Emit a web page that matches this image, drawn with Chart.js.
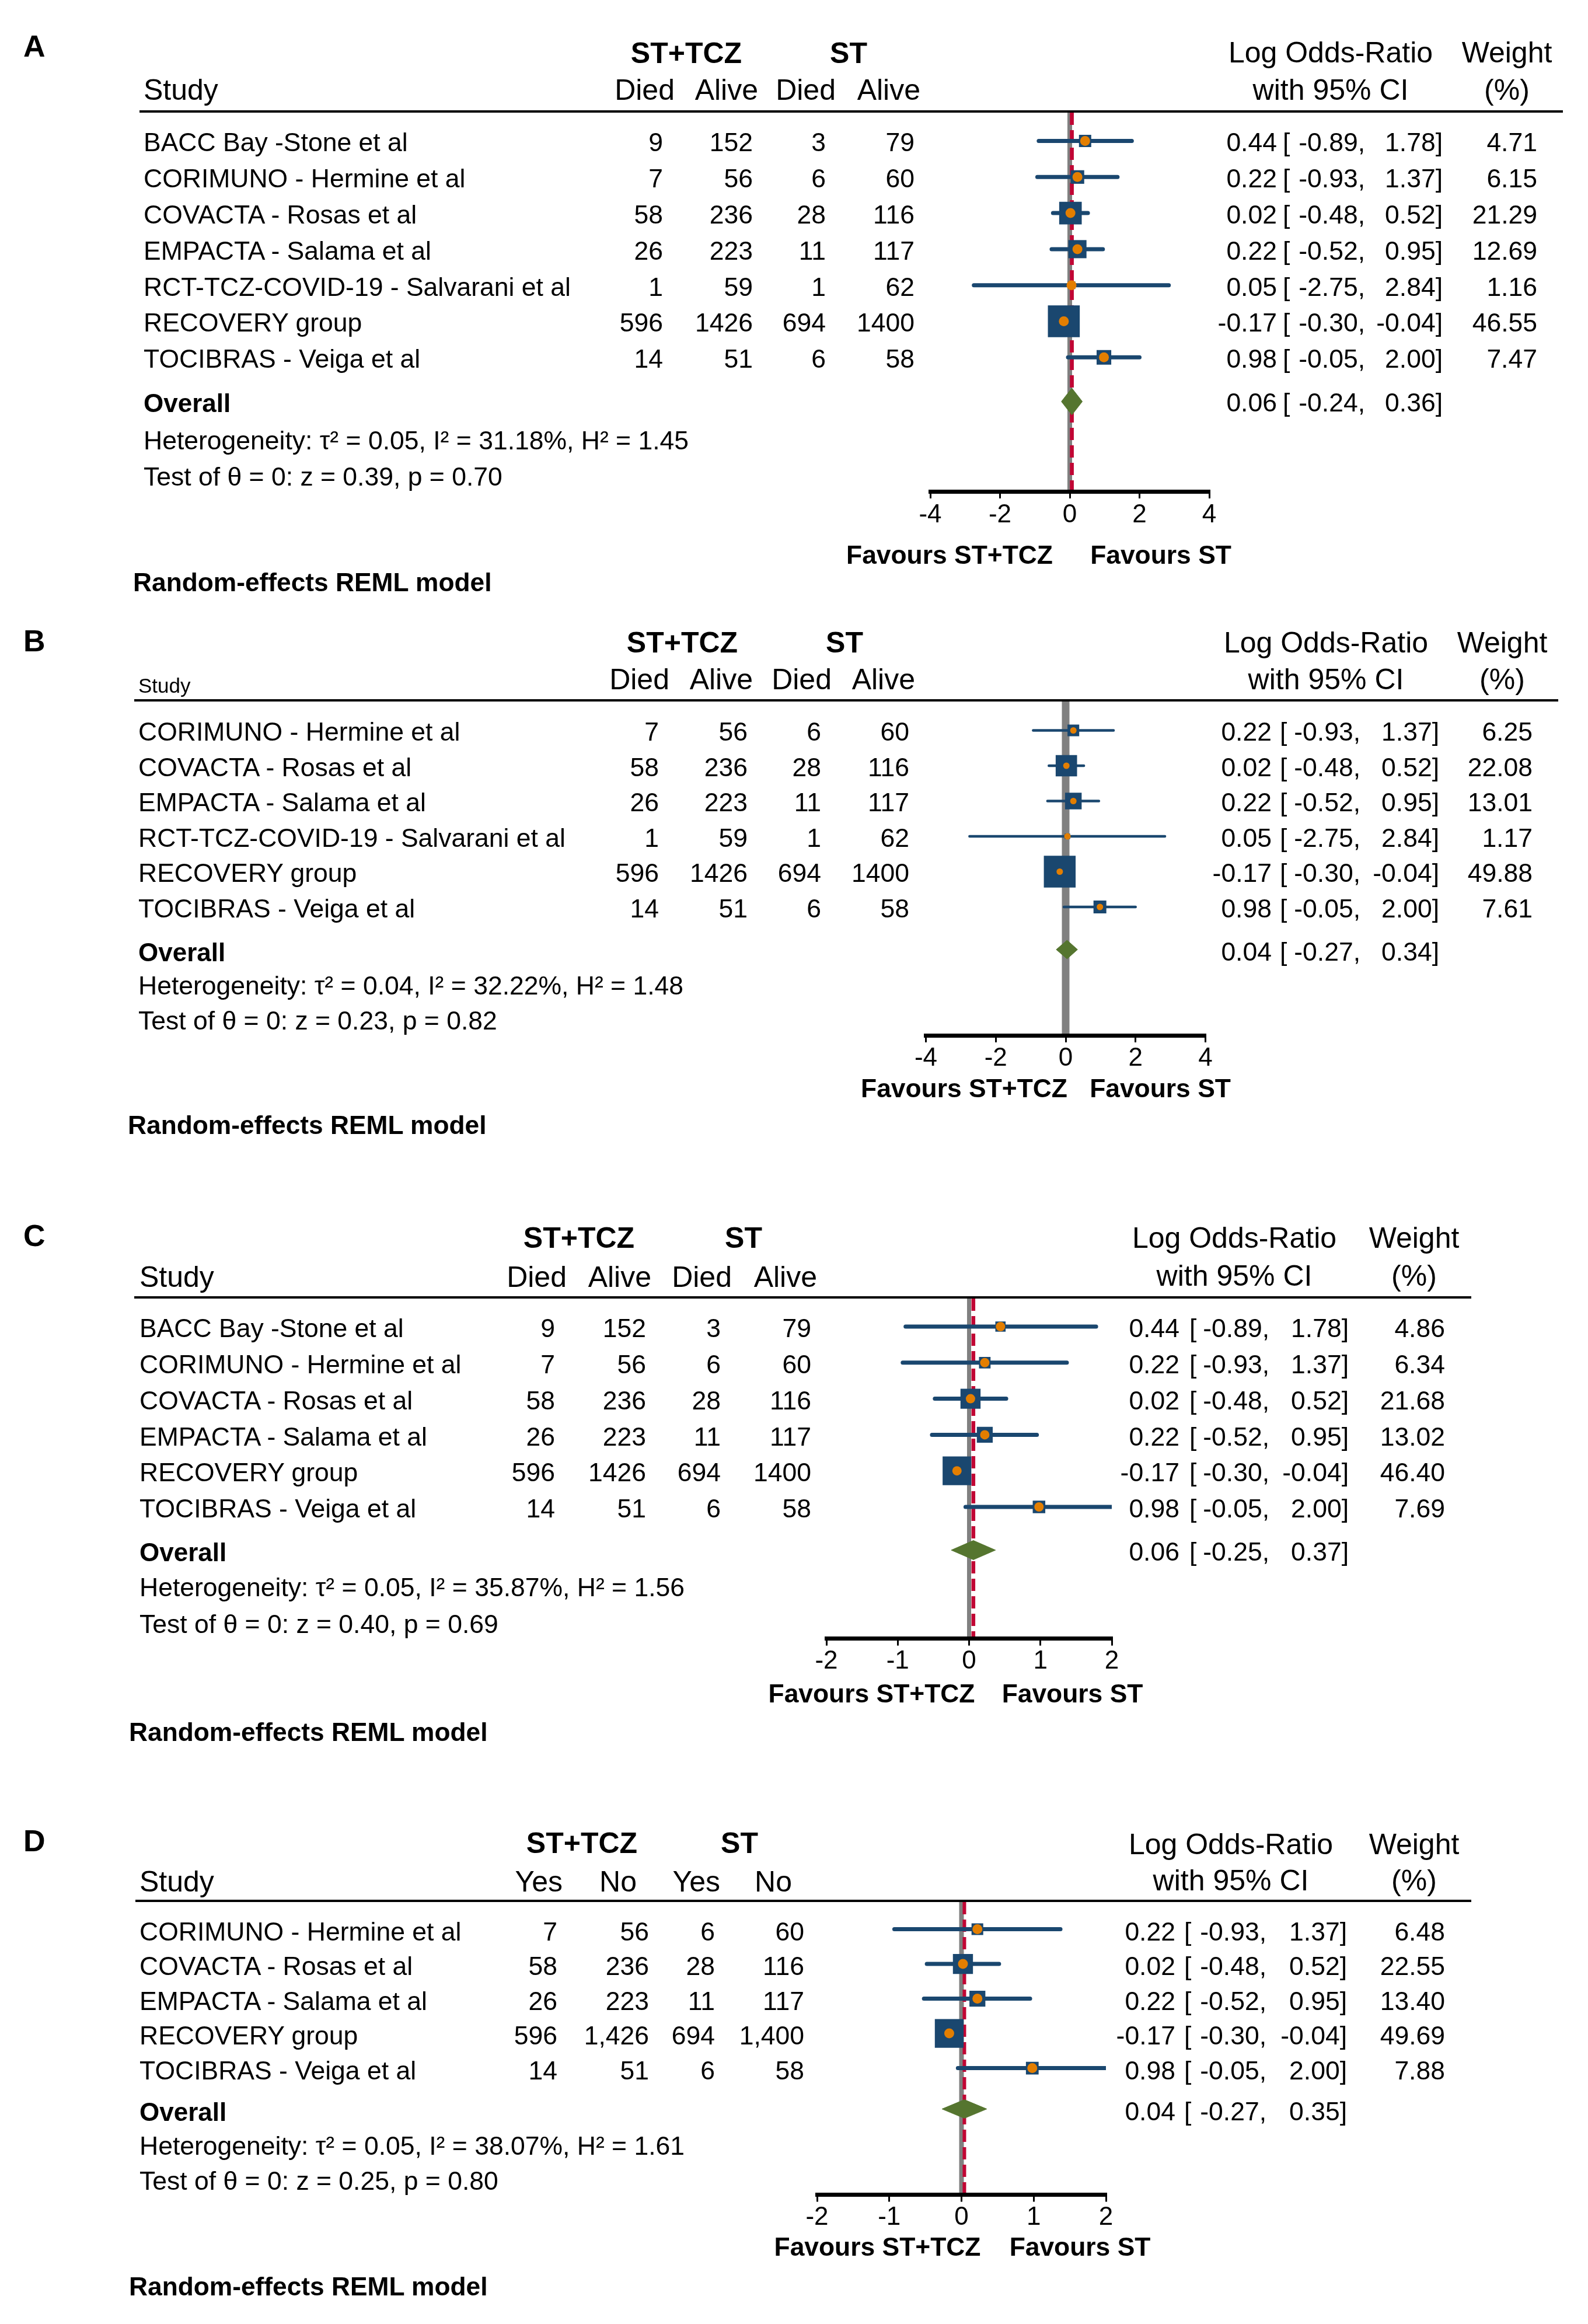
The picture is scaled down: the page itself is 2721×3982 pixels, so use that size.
<!DOCTYPE html>
<html><head><meta charset="utf-8">
<script src="https://cdn.jsdelivr.net/npm/chart.js@4.4.1/dist/chart.umd.min.js"></script>
<style>
html,body{margin:0;padding:0;background:#fff;}
#page{position:relative;width:2721px;height:3982px;overflow:hidden;background:#fff;font-family:"Liberation Sans",Arial,Helvetica,sans-serif;color:#000;}
.t{position:absolute;white-space:pre;line-height:1;}
canvas{position:absolute;left:0;}
.hl{position:absolute;background:#000;}
</style></head><body><div id="page"></div>
<script>
// ---------------- DATA ----------------
const colHeadsABC = ['Died', 'Alive', 'Died', 'Alive'];
const colHeadsD = ['Yes', 'No', 'Yes', 'No'];

// Panel A
const studiesA = ['BACC Bay -Stone et al', 'CORIMUNO - Hermine et al', 'COVACTA - Rosas et al', 'EMPACTA - Salama et al', 'RCT-TCZ-COVID-19 - Salvarani et al', 'RECOVERY group', 'TOCIBRAS - Veiga et al'];
const trtDiedA = [9, 7, 58, 26, 1, 596, 14];
const trtAliveA = [152, 56, 236, 223, 59, 1426, 51];
const ctlDiedA = [3, 6, 28, 11, 1, 694, 6];
const ctlAliveA = [79, 60, 116, 117, 62, 1400, 58];
const estA = [0.44, 0.22, 0.02, 0.22, 0.05, -0.17, 0.98];
const lowA = [-0.89, -0.93, -0.48, -0.52, -2.75, -0.30, -0.05];
const highA = [1.78, 1.37, 0.52, 0.95, 2.84, -0.04, 2.00];
const weightA = [4.71, 6.15, 21.29, 12.69, 1.16, 46.55, 7.47];
const overallA = [0.06, -0.24, 0.36];
const hetA = [0.05, 31.18, 1.45];
const testA = [0.39, 0.70];
const ticksA = [-4, -2, 0, 2, 4];

// Panel B
const studiesB = ['CORIMUNO - Hermine et al', 'COVACTA - Rosas et al', 'EMPACTA - Salama et al', 'RCT-TCZ-COVID-19 - Salvarani et al', 'RECOVERY group', 'TOCIBRAS - Veiga et al'];
const trtDiedB = [7, 58, 26, 1, 596, 14];
const trtAliveB = [56, 236, 223, 59, 1426, 51];
const ctlDiedB = [6, 28, 11, 1, 694, 6];
const ctlAliveB = [60, 116, 117, 62, 1400, 58];
const estB = [0.22, 0.02, 0.22, 0.05, -0.17, 0.98];
const lowB = [-0.93, -0.48, -0.52, -2.75, -0.30, -0.05];
const highB = [1.37, 0.52, 0.95, 2.84, -0.04, 2.00];
const weightB = [6.25, 22.08, 13.01, 1.17, 49.88, 7.61];
const overallB = [0.04, -0.27, 0.34];
const hetB = [0.04, 32.22, 1.48];
const testB = [0.23, 0.82];
const ticksB = [-4, -2, 0, 2, 4];

// Panel C
const studiesC = ['BACC Bay -Stone et al', 'CORIMUNO - Hermine et al', 'COVACTA - Rosas et al', 'EMPACTA - Salama et al', 'RECOVERY group', 'TOCIBRAS - Veiga et al'];
const trtDiedC = [9, 7, 58, 26, 596, 14];
const trtAliveC = [152, 56, 236, 223, 1426, 51];
const ctlDiedC = [3, 6, 28, 11, 694, 6];
const ctlAliveC = [79, 60, 116, 117, 1400, 58];
const estC = [0.44, 0.22, 0.02, 0.22, -0.17, 0.98];
const lowC = [-0.89, -0.93, -0.48, -0.52, -0.30, -0.05];
const highC = [1.78, 1.37, 0.52, 0.95, -0.04, 2.00];
const weightC = [4.86, 6.34, 21.68, 13.02, 46.40, 7.69];
const overallC = [0.06, -0.25, 0.37];
const hetC = [0.05, 35.87, 1.56];
const testC = [0.40, 0.69];
const ticksC = [-2, -1, 0, 1, 2];

// Panel D
const studiesD = ['CORIMUNO - Hermine et al', 'COVACTA - Rosas et al', 'EMPACTA - Salama et al', 'RECOVERY group', 'TOCIBRAS - Veiga et al'];
const trtYesD = [7, 58, 26, 596, 14];
const trtNoD = [56, 236, 223, 1426, 51];
const ctlYesD = [6, 28, 11, 694, 6];
const ctlNoD = [60, 116, 117, 1400, 58];
const estD = [0.22, 0.02, 0.22, -0.17, 0.98];
const lowD = [-0.93, -0.48, -0.52, -0.30, -0.05];
const highD = [1.37, 0.52, 0.95, -0.04, 2.00];
const weightD = [6.48, 22.55, 13.40, 49.69, 7.88];
const overallD = [0.04, -0.27, 0.35];
const hetD = [0.05, 38.07, 1.61];
const testD = [0.25, 0.80];
const ticksD = [-2, -1, 0, 1, 2];

// ---------------- LAYOUT (positions/styles) ----------------
const FONT = '"Liberation Sans", Arial, Helvetica, sans-serif';
const NAVY = '#1A476F', ORANGE = '#E37E00', GREEN = '#55752F', RED = '#C10534', GRAY = '#808080';
const AXH = 70;

const layoutA = {letter:'A', letterBase:97, groupBase:108, groupT:1176, groupS:1454,
  headBase:171, studyX:246, studySize:50, studyBase:171, headRight:[1156,1299,1432,1577],
  lorX:2280, lorBase1:107, lorBase2:171, wX:2582, ruleX1:239, ruleX2:2678, ruleY:191,
  row0:241.5, pitch:61.8, textOff:2.6, overallY:688, overallTextY:690, hetY:755, testY:817,
  colRight:[1136,1290,1415,1567], estR:2188, brkL:2198, lowR:2339, highR:2472, wR:2634,
  xMin:-4, xMax:4, axL:1594, axR:2072, axY:842, chartTop:193, tickY:883,
  favY:951, favT:1627, favS:1989, remX:228, remY:998, canvasTop:0, canvasH:1040,
  sqA:5.3, sqB:7.23, dot:17, ciW:7, grayW:8, redW:6.7, diaH:23, red:true, commas:false};

const layoutB = {letter:'B', letterBase:1116, groupBase:1118, groupT:1169, groupS:1447,
  headBase:1181, studyX:237, studySize:35, studyBase:1187, headRight:[1147,1290,1425,1568],
  lorX:2272, lorBase1:1118, lorBase2:1181, wX:2574, ruleX1:230, ruleX2:2670, ruleY:1200,
  row0:1251.5, pitch:60.5, textOff:2.3, overallY:1627, overallTextY:1631, hetY:1689, testY:1749,
  colRight:[1129,1281,1407,1558], estR:2179, brkL:2193, lowR:2331, highR:2466, wR:2626,
  xMin:-4, xMax:4, axL:1586.5, axR:2065.5, axY:1774, chartTop:1202, tickY:1813.5,
  favY:1865, favT:1652, favS:1988, remX:219, remY:1928, canvasTop:1050, canvasH:950,
  sqA:1.2, sqB:7.54, dot:11, ciW:4.5, grayW:13, redW:0, diaH:16, red:false, commas:false};

const layoutC = {letter:'C', letterBase:2135, groupBase:2138, groupT:992, groupS:1274,
  headBase:2205, studyX:239, studySize:50, studyBase:2205, headRight:[971,1116,1254,1400],
  lorX:2115, lorBase1:2138, lorBase2:2203, wX:2423, ruleX1:230, ruleX2:2521, ruleY:2223,
  row0:2273, pitch:61.8, textOff:3, overallY:2656, overallTextY:2659, hetY:2720, testY:2783,
  colRight:[951,1107,1235,1390], estR:2021, brkL:2038, lowR:2175, highR:2311, wR:2476,
  xMin:-2, xMax:2, axL:1416, axR:1905, axY:2807.6, chartTop:2225, tickY:2847,
  favY:2901.5, favT:1493.5, favS:1837.5, remX:221, remY:2968, canvasTop:2030, canvasH:1000,
  sqA:2.5, sqB:6.85, dot:16, ciW:7, grayW:7, redW:6.5, diaH:16.5, red:true, commas:false};

const layoutD = {letter:'D', letterBase:3172, groupBase:3175, groupT:997, groupS:1267,
  headBase:3241, studyX:239, studySize:50, studyBase:3241, headRight:[964,1091,1234,1357],
  lorX:2109, lorBase1:3177, lorBase2:3239, wX:2423, ruleX1:232, ruleX2:2521, ruleY:3257,
  row0:3305.6, pitch:59.5, textOff:4, overallY:3613.6, overallTextY:3618, hetY:3677, testY:3737,
  colRight:[955,1112,1225,1378], estR:2014, brkL:2029, lowR:2170, highR:2308, wR:2476,
  xMin:-2, xMax:2, axL:1400, axR:1895, axY:3760.5, chartTop:3259, tickY:3800,
  favY:3850, favT:1503.5, favS:1850.5, remX:221, remY:3918, canvasTop:3030, canvasH:952,
  sqA:3.5, sqB:6.5, dot:17, ciW:7, grayW:8, redW:6, diaH:16, red:true, commas:true};

const panels = [
  {L:layoutA, studies:studiesA, cols:[trtDiedA,trtAliveA,ctlDiedA,ctlAliveA], est:estA, low:lowA, high:highA, w:weightA, ov:overallA, het:hetA, test:testA, ticks:ticksA, heads:colHeadsABC},
  {L:layoutB, studies:studiesB, cols:[trtDiedB,trtAliveB,ctlDiedB,ctlAliveB], est:estB, low:lowB, high:highB, w:weightB, ov:overallB, het:hetB, test:testB, ticks:ticksB, heads:colHeadsABC},
  {L:layoutC, studies:studiesC, cols:[trtDiedC,trtAliveC,ctlDiedC,ctlAliveC], est:estC, low:lowC, high:highC, w:weightC, ov:overallC, het:hetC, test:testC, ticks:ticksC, heads:colHeadsABC},
  {L:layoutD, studies:studiesD, cols:[trtYesD,trtNoD,ctlYesD,ctlNoD], est:estD, low:lowD, high:highD, w:weightD, ov:overallD, het:hetD, test:testD, ticks:ticksD, heads:colHeadsD}
];

// ---------------- RENDER ----------------
const page = document.getElementById('page');
Chart.defaults.font.family = FONT;
Chart.defaults.color = '#000';

function T(str, x, y, size, o) {
  o = o || {};
  const e = document.createElement('div');
  e.className = 't';
  e.textContent = str;
  e.style.fontSize = size + 'px';
  if (o.bold) e.style.fontWeight = 'bold';
  const top = o.base ? y - 0.8465 * size : y - 0.4885 * size;
  e.style.top = top + 'px';
  e.style.left = x + 'px';
  if (o.align === 'right') e.style.transform = 'translateX(-100%)';
  else if (o.align === 'center') e.style.transform = 'translateX(-50%)';
  page.appendChild(e);
}
const f2 = v => v.toFixed(2);

function drawChart(P) {
  const L = P.L;
  const cv = document.createElement('canvas');
  cv.width = 2721; cv.height = L.canvasH;
  cv.style.top = L.canvasTop + 'px';
  cv.style.width = '2721px'; cv.style.height = L.canvasH + 'px';
  page.appendChild(cv);

  const yMin = (L.chartTop - L.row0) / L.pitch;
  const yMax = (L.axY - L.row0) / L.pitch;
  const oy = (L.overallY - L.row0) / L.pitch;
  const h = L.diaH / L.pitch;

  const pts = P.est.map((e, i) => ({x: e, y: i}));
  const ciData = [];
  P.est.forEach((e, i) => { ciData.push({x: P.low[i], y: i}, {x: P.high[i], y: i}, {x: e, y: null}); });
  const dia = [{x: P.ov[1], y: oy}, {x: P.ov[0], y: oy - h}, {x: P.ov[2], y: oy}, {x: P.ov[0], y: oy + h}, {x: P.ov[1], y: oy}];

  const datasets = [
    {label: 'estimate', data: pts, pointStyle: 'circle', pointRadius: L.dot / 2, pointBackgroundColor: ORANGE, pointBorderWidth: 0, showLine: false, order: 0},
    {label: 'weight', data: pts, pointStyle: 'rect', pointRadius: ctx => (L.sqA + L.sqB * Math.sqrt(P.w[ctx.dataIndex])) / Math.SQRT2, pointBackgroundColor: NAVY, pointBorderWidth: 0, showLine: false, order: 1},
    {label: 'overall', data: dia, showLine: true, fill: 'shape', backgroundColor: GREEN, borderColor: GREEN, borderWidth: 1, pointRadius: 0, tension: 0, order: 2},
    {label: 'ci', data: ciData, showLine: true, spanGaps: false, borderColor: NAVY, borderWidth: L.ciW, borderCapStyle: 'round', pointRadius: 0, tension: 0, order: 3},
    {label: 'null', data: [{x: 0, y: yMin}, {x: 0, y: yMax}], showLine: true, borderColor: GRAY, borderWidth: L.grayW, pointRadius: 0, order: 5}
  ];
  if (L.red) {
    datasets.push({label: 'overall line', data: [{x: P.ov[0], y: yMin}, {x: P.ov[0], y: yMax}], showLine: true, borderColor: RED, borderWidth: L.redW, borderDash: [21, 9], pointRadius: 0, order: 4});
  }

  const tl = 12;
  const pad = L.tickY - L.axY - tl - 44 * 1.2 / 2;
  new Chart(cv, {
    type: 'scatter',
    data: {datasets},
    options: {
      responsive: false, animation: false, events: [],
      layout: {padding: {left: L.axL, right: 2721 - L.axR, top: L.chartTop - L.canvasTop, bottom: L.canvasTop + L.canvasH - L.axY - AXH}},
      plugins: {legend: {display: false}, tooltip: {enabled: false}},
      scales: {
        x: {
          type: 'linear', position: 'bottom', min: L.xMin, max: L.xMax,
          afterBuildTicks: ax => { ax.ticks = P.ticks.map(v => ({value: v})); },
          afterFit: ax => { ax.height = AXH; },
          grid: {display: true, drawOnChartArea: false, drawTicks: true, tickLength: tl, color: '#000', lineWidth: 3, z: 1},
          border: {display: true, width: 7, color: '#000', z: 1},
          ticks: {color: '#000', font: {size: 44, family: FONT}, padding: pad, maxRotation: 0, autoSkip: false, callback: v => String(v)}
        },
        y: {type: 'linear', display: false, reverse: true, min: yMin, max: yMax}
      }
    }
  });
}

function drawText(P) {
  const L = P.L;
  const RS = 44.5, HS = 50;
  T(L.letter, 40, L.letterBase, 52, {bold: true, base: true});
  T('ST+TCZ', L.groupT, L.groupBase, HS, {bold: true, base: true, align: 'center'});
  T('ST', L.groupS, L.groupBase, HS, {bold: true, base: true, align: 'center'});
  T('Study', L.studyX, L.studyBase, L.studySize, {base: true});
  P.heads.forEach((hd, j) => T(hd, L.headRight[j], L.headBase, HS, {base: true, align: 'right'}));
  T('Log Odds-Ratio', L.lorX, L.lorBase1, HS, {base: true, align: 'center'});
  T('with 95% CI', L.lorX, L.lorBase2, HS, {base: true, align: 'center'});
  T('Weight', L.wX, L.lorBase1, HS, {base: true, align: 'center'});
  T('(%)', L.wX, L.lorBase2, HS, {base: true, align: 'center'});
  const r = document.createElement('div');
  r.className = 'hl';
  r.style.left = L.ruleX1 + 'px'; r.style.width = (L.ruleX2 - L.ruleX1) + 'px';
  r.style.top = (L.ruleY - 2) + 'px'; r.style.height = '4px';
  page.appendChild(r);

  const fmtN = n => L.commas ? n.toLocaleString('en-US') : String(n);
  const ci = (y, e, lo, hi) => {
    T(f2(e), L.estR, y, RS, {align: 'right'});
    T('[', L.brkL, y, RS);
    T(f2(lo) + ',', L.lowR, y, RS, {align: 'right'});
    T(f2(hi) + ']', L.highR, y, RS, {align: 'right'});
  };
  P.studies.forEach((s, i) => {
    const y = L.row0 + i * L.pitch + L.textOff;
    T(s, L.studyX, y, RS);
    P.cols.forEach((col, j) => T(fmtN(col[i]), L.colRight[j], y, RS, {align: 'right'}));
    ci(y, P.est[i], P.low[i], P.high[i]);
    T(f2(P.w[i]), L.wR, y, RS, {align: 'right'});
  });
  T('Overall', L.studyX, L.overallTextY, 44, {bold: true});
  ci(L.overallTextY, P.ov[0], P.ov[1], P.ov[2]);
  T('Heterogeneity: \u03c4\u00b2 = ' + f2(P.het[0]) + ', I\u00b2 = ' + f2(P.het[1]) + '%, H\u00b2 = ' + f2(P.het[2]), L.studyX, L.hetY, RS);
  T('Test of \u03b8 = 0: z = ' + f2(P.test[0]) + ', p = ' + f2(P.test[1]), L.studyX, L.testY, RS);
  T('Favours ST+TCZ', L.favT, L.favY, 44.4, {bold: true, align: 'center'});
  T('Favours ST', L.favS, L.favY, 44.4, {bold: true, align: 'center'});
  T('Random-effects REML model', L.remX, L.remY, 44.3, {bold: true});
}

panels.forEach(P => { drawChart(P); drawText(P); });
</script>
</body></html>
